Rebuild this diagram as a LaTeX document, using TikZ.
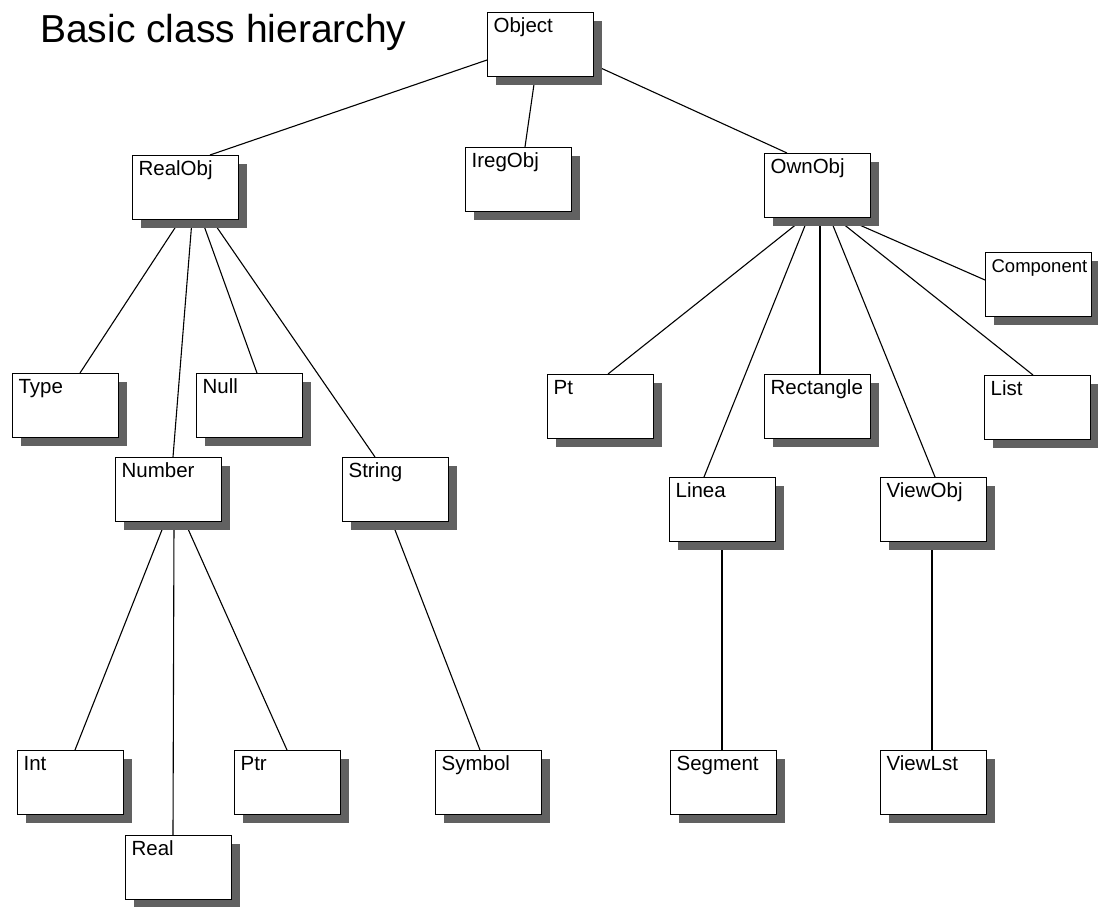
\documentclass[tikz,border=0pt]{standalone}
\usepackage{fontspec}
\setmainfont{Liberation Sans}
\usetikzlibrary{shadows,calc,backgrounds}
\tikzset{
  cls/.style={draw, line width=1.2pt, fill=white, anchor=north west,
    font=\fontsize{20.5}{23}\selectfont, align=left, text width=94pt,
    inner xsep=6pt, inner ysep=5pt, text height=15pt, text depth=39pt,
    drop shadow={shadow xshift=8pt, shadow yshift=-8pt, opacity=1, fill=black!62}},
  link/.style={line width=1.1pt, black}
}
\begin{document}
\begin{tikzpicture}[x=1pt,y=-1pt]
\useasboundingbox (0,0) rectangle (1098,907);
\node[anchor=base west, font=\fontsize{39}{44}\selectfont, inner sep=0pt] (title) at (40,43) {Basic class hierarchy};

\node[cls] (Object) at (487,12) {Object};
\node[cls] (RealObj) at (132,155) {RealObj};
\node[cls] (IregObj) at (465,147) {IregObj};
\node[cls] (OwnObj) at (764,153) {OwnObj};
\node[cls, font=\fontsize{18.5}{22}\selectfont] (Component) at (985,252) {Component};
\node[cls] (Type) at (12,373) {Type};
\node[cls] (Null) at (196,373) {Null};
\node[cls] (Pt) at (547,374) {Pt};
\node[cls] (Rectangle) at (764,374) {Rectangle};
\node[cls] (List) at (984,375) {List};
\node[cls] (Number) at (115,457) {Number};
\node[cls] (String) at (342,457) {String};
\node[cls] (Linea) at (669,477) {Linea};
\node[cls] (ViewObj) at (880,477) {ViewObj};
\node[cls] (Int) at (17,750) {Int};
\node[cls] (Ptr) at (234,750) {Ptr};
\node[cls] (Symbol) at (435,750) {Symbol};
\node[cls] (Segment) at (670,750) {Segment};
\node[cls] (ViewLst) at (880,750) {ViewLst};
\node[cls] (Real) at (125,835) {Real};

\begin{scope}[on background layer]
\draw[link] ($(Object.north west)+(0,48)$) -- ($(RealObj.north west)+(78,0)$);
\draw[link] ($(Object.south west)+(48,0)$) -- ($(IregObj.north west)+(60,0)$);
\draw[link] ($(Object.north east)+(0,53)$) -- ($(OwnObj.north west)+(23,0)$);

\draw[link] ($(RealObj.south west)+(48,0)$) -- ($(Type.north west)+(68,0)$);
\draw[link] ($(RealObj.south west)+(60,0)$) -- ($(Number.north west)+(58,0)$);
\draw[link] ($(RealObj.south west)+(70,0)$) -- ($(Null.north west)+(61,0)$);
\draw[link] ($(RealObj.south west)+(80,0)$) -- ($(String.north west)+(33,0)$);

\draw[link] ($(Number.south west)+(50,0)$) -- ($(Int.north west)+(58,0)$);
\draw[link] ($(Number.south west)+(59,0)$) -- ($(Real.north west)+(48,0)$);
\draw[link] ($(Number.south west)+(70,0)$) -- ($(Ptr.north west)+(53,0)$);
\draw[link] ($(String.south west)+(50,0)$) -- ($(Symbol.north west)+(45,0)$);

\draw[link] ($(OwnObj.south west)+(40,0)$) -- ($(Pt.north west)+(61,0)$);
\draw[link] ($(OwnObj.south west)+(44,0)$) -- ($(Linea.north west)+(35,0)$);
\draw[link] ($(OwnObj.south west)+(56,0)$) -- ($(Rectangle.north west)+(56,0)$);
\draw[link] ($(OwnObj.south west)+(66,0)$) -- ($(ViewObj.north west)+(55,0)$);
\draw[link] ($(OwnObj.south west)+(72,0)$) -- ($(List.north west)+(49,0)$);
\draw[link] ($(OwnObj.south west)+(80,0)$) -- ($(Component.north west)+(0,28)$);

\draw[link] ($(Linea.south west)+(53,0)$) -- ($(Segment.north west)+(52,0)$);
\draw[link] ($(ViewObj.south west)+(52,0)$) -- ($(ViewLst.north west)+(52,0)$);
\end{scope}
\end{tikzpicture}
\end{document}
